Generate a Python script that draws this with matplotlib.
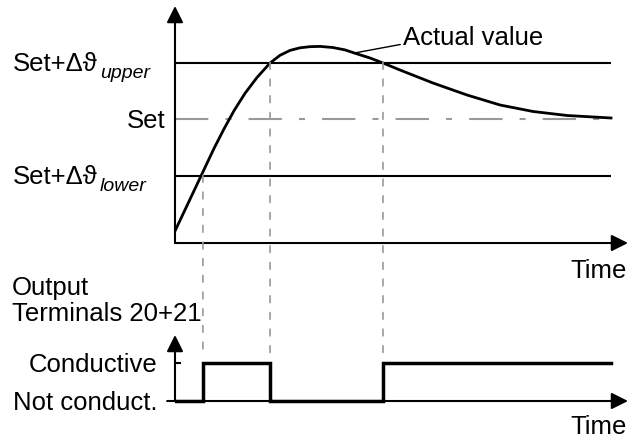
import matplotlib.pyplot as plt
from matplotlib.patches import ConnectionPatch

plt.rcParams['font.family'] = ['Liberation Sans', 'DejaVu Sans']

# actual value relative to the set point (1 = upper limit, -1 = lower limit)
t = [0, 0.298, 0.596, 0.894, 1.124, 1.353, 1.606, 1.881, 2.179, 2.408,
     2.638, 2.867, 3.096, 3.326, 3.624, 3.899, 4.128, 4.472, 4.771, 5.161,
     5.917, 6.697, 7.454, 8.211, 8.991, 10.0]
actual = [-1.982, -1.496, -1.009, -0.522, -0.175, 0.146, 0.455, 0.735, 0.99,
          1.127, 1.214, 1.26, 1.28, 1.285, 1.265, 1.223, 1.164, 1.080,
          0.991, 0.867, 0.637, 0.425, 0.248, 0.133, 0.062, 0.018]
levels = [1, 0, -1]

# switching of the output
switch_t = [0.64, 2.18, 4.77]
switch_level = [-1, 1, 1]
out_t = [0, 0.64, 2.18, 4.77, 10.0]
out_state = [0, 1, 0, 1, 1]

FS = 18.5
arrow = dict(arrowstyle='-|>,head_length=1.0,head_width=0.5', color='k',
             lw=1.5, shrinkA=0, shrinkB=0, mutation_scale=10)

fig = plt.figure(figsize=(6.3, 4.45), dpi=100)
ax1 = fig.add_axes([175 / 630, 195 / 445, 455 / 630, 250 / 445])
ax2 = fig.add_axes([175 / 630, 0, 455 / 630, 195 / 445])
for ax in (ax1, ax2):
    ax.set_xlim(0, 455 / 43.6)
    ax.axis('off')
ax1.set_ylim(-131 / 56.5, 119 / 56.5)
ax2.set_ylim(-44 / 38, 151 / 38)

# upper diagram: temperature
ax1.hlines([levels[0], levels[2]], 0, 10.0, color='k', lw=1.5)
ax1.plot([0, 10.0], [levels[1], levels[1]], color='#999999', lw=1.5,
         dashes=(16, 8.2, 2.9, 8.2))
ax1.plot(t, actual, color='k', lw=2, solid_joinstyle='round')
ax1.annotate('', xy=(0, 2.0), xytext=(0, -2.195), arrowprops=arrow)
ax1.annotate('', xy=(10.39, -2.195), xytext=(0, -2.195), arrowprops=arrow)

ax1.text(-0.229, -0.159, 'Set', fontsize=FS, ha='right', va='baseline')
ax1.text(-1.766, 0.850, 'Set+\u0394\u03d1', fontsize=FS, ha='right', va='baseline')
ax1.text(-1.72, 0.726, 'upper', fontsize=14, style='italic', ha='left', va='baseline')
ax1.text(-1.766, -1.150, 'Set+\u0394\u03d1', fontsize=FS, ha='right', va='baseline')
ax1.text(-1.72, -1.274, 'lower', fontsize=14, style='italic', ha='left', va='baseline')
ax1.annotate('Actual value', xy=(4.13, 1.17), xytext=(5.23, 1.31), fontsize=FS,
             ha='left', va='baseline',
             arrowprops=dict(arrowstyle='-', color='k', lw=1, shrinkA=0,
                             shrinkB=0, relpos=(0, 0.25)))

# lower diagram: output terminals
ax2.step(out_t, out_state, where='post', color='k', lw=2.5, solid_joinstyle='miter')
ax2.annotate('', xy=(0, 1.737), xytext=(0, 0), arrowprops=arrow)
ax2.annotate('', xy=(10.39, 0), xytext=(-0.18, 0), arrowprops=arrow)
ax2.plot([-0.115, 0.115], [1, 1], color='k', lw=1.5)

ax2.text(-0.39, 0.763, 'Conductive', fontsize=FS, ha='right', va='baseline')
ax2.text(-0.39, -0.237, 'Not conduct.', fontsize=FS, ha='right', va='baseline')
ax2.text(-3.739, 2.789, 'Output', fontsize=FS, ha='left', va='baseline')
ax2.text(-3.739, 2.105, 'Terminals 20+21', fontsize=FS, ha='left', va='baseline')
ax2.text(10.37, 3.25, 'Time', fontsize=FS, ha='right', va='baseline')
ax2.text(10.37, -0.868, 'Time', fontsize=FS, ha='right', va='baseline')

# dashed links from the limit crossings to the switching edges
for ts, lv in zip(switch_t, switch_level):
    con = ConnectionPatch(xyA=(ts, lv), coordsA=ax1.transData,
                          xyB=(ts, 1.13), coordsB=ax2.transData,
                          color='#999999', lw=1.2, linestyle=(0, (4, 6)))
    fig.add_artist(con)

fig.savefig('out.png', dpi=100)
